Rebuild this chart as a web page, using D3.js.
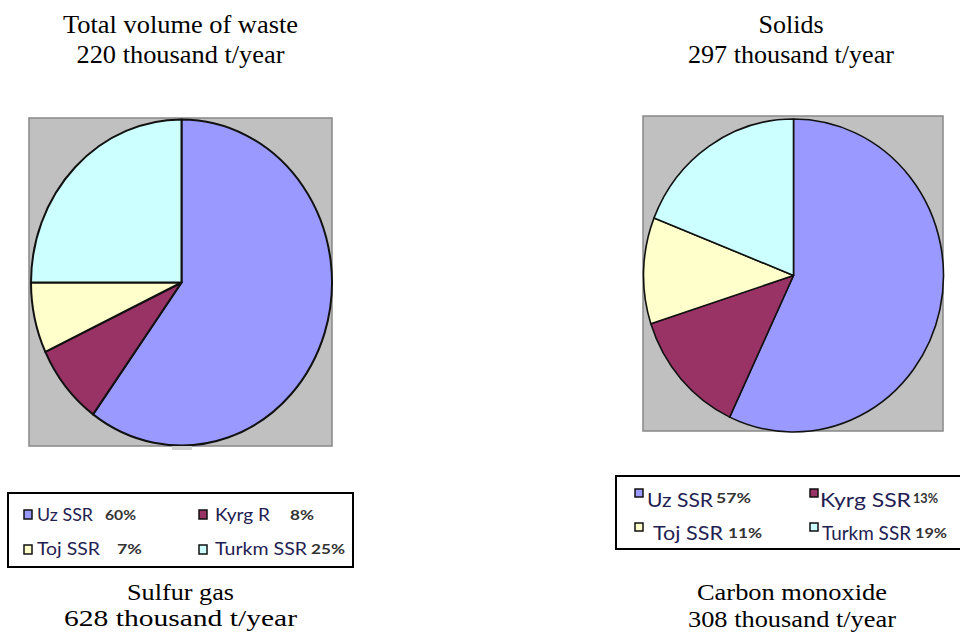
<!DOCTYPE html>
<html>
<head>
<meta charset="utf-8">
<script src="https://cdn.jsdelivr.net/npm/d3@7"></script>
<style>
  html, body { margin: 0; padding: 0; background: #fff; }
  svg { display: block; }
</style>
</head>
<body>
<svg id="chart" width="960" height="634"></svg>
<script>
// ---- data ----
const regions = ["Uz SSR", "Kyrg SSR", "Toj SSR", "Turkm SSR"];
const labelsLeft = ["Uz SSR", "Kyrg R", "Toj SSR", "Turkm SSR"];
const labelsRight = ["Uz SSR", "Kyrg SSR", "Toj SSR", "Turkm SSR"];
const sharesLeft = [60, 8, 7, 25];
const sharesRight = [57, 13, 11, 19];
const colors = ["#9999ff", "#993366", "#ffffcc", "#ccffff"];
const topTitles = [["Total volume of waste", "220 thousand t/year"], ["Solids", "297 thousand t/year"]];
const bottomTitles = [["Sulfur gas", "628 thousand t/year"], ["Carbon monoxide", "308 thousand t/year"]];

const svg = d3.select("#chart");
const color = d3.scaleOrdinal().domain(regions).range(colors);

function drawPie(cfg, shares) {
  const g = svg.append("g");
  g.append("rect")
    .attr("x", cfg.box[0]).attr("y", cfg.box[1])
    .attr("width", cfg.box[2]).attr("height", cfg.box[3])
    .attr("fill", "#c0c0c0").attr("stroke", "#888").attr("stroke-width", 1.5);
  const pie = d3.pie().sort(null).value(d => d.v);
  const arc = d3.arc().innerRadius(0).outerRadius(cfg.rx);
  const data = shares.map((v, i) => ({ v, key: regions[i] }));
  g.append("g")
    .attr("transform", `translate(${cfg.cx},${cfg.cy}) scale(1,${cfg.ry / cfg.rx})`)
    .selectAll("path")
    .data(pie(data))
    .join("path")
    .attr("d", arc)
    .attr("fill", d => color(d.data.key))
    .attr("stroke", "#111")
    .attr("stroke-width", cfg.sw)
    .attr("stroke-linejoin", "round")
    .attr("vector-effect", "non-scaling-stroke");
}

drawPie({ box: [29, 118, 303, 328], cx: 181.5, cy: 282.5, rx: 150.5, ry: 163, sw: 2 }, sharesLeft);
drawPie({ box: [643, 116, 300, 315], cx: 793.5, cy: 275.5, rx: 150, ry: 156.5, sw: 1.6 }, sharesRight);

// small artifact under the left plot
svg.append("rect").attr("x", 172).attr("y", 446).attr("width", 20).attr("height", 4).attr("fill", "#d0d0d0");

// ---- titles ----
function titleBlock(lines, cx, y1, y2, size, widths) {
  const t = svg.append("g")
    .attr("font-family", "'Liberation Serif', 'Times New Roman', serif")
    .attr("font-size", size).attr("fill", "#000").attr("text-anchor", "middle");
  [y1, y2].forEach((y, i) => {
    const el = t.append("text").attr("x", cx).attr("y", y).text(lines[i]);
    if (widths && widths[i]) el.attr("textLength", widths[i]).attr("lengthAdjust", "spacingAndGlyphs");
  });
}
titleBlock(topTitles[0], 180.5, 33, 63, 26, [235, 208]);
titleBlock(topTitles[1], 791, 33, 63, 26, [65, 206]);
titleBlock(bottomTitles[0], 180.5, 600, 626, 22.5, [107, 233]);
titleBlock(bottomTitles[1], 792, 600, 627, 22.5, [190, 208]);

// ---- legends ----
const legFont = "Lato, 'Open Sans', sans-serif";
const textCol = "#1f2152";

// left legend
const legL = svg.append("g");
legL.append("rect").attr("x", 8).attr("y", 493).attr("width", 345).attr("height", 74)
  .attr("fill", "#fff").attr("stroke", "#000").attr("stroke-width", 2);
const posL = [
  { mx: 24, my: 510, tx: 37, ty: 521, px: 105, tw: 56, pw: 31 },
  { mx: 199, my: 510, tx: 215, ty: 521, px: 290, tw: 55, pw: 24 },
  { mx: 24, my: 545, tx: 37, ty: 555, px: 117, tw: 63, pw: 25 },
  { mx: 199, my: 545, tx: 215, ty: 555, px: 311, tw: 92, pw: 34 }
];
labelsLeft.forEach((lab, i) => {
  const p = posL[i];
  legL.append("rect").attr("x", p.mx).attr("y", p.my).attr("width", 8).attr("height", 9)
    .attr("fill", colors[i]).attr("stroke", "#111").attr("stroke-width", 1.5);
  legL.append("text").attr("x", p.tx).attr("y", p.ty).attr("font-family", legFont)
    .attr("font-size", 18).attr("fill", textCol)
    .attr("textLength", p.tw).attr("lengthAdjust", "spacingAndGlyphs").text(lab);
  legL.append("text").attr("x", p.px).attr("y", p.ty - 1).attr("font-family", legFont)
    .attr("font-size", 13).attr("font-weight", 700).attr("fill", "#333")
    .attr("textLength", p.pw).attr("lengthAdjust", "spacingAndGlyphs")
    .text(sharesLeft[i] + "%");
});

// right legend
const legR = svg.append("g");
legR.append("rect").attr("x", 616).attr("y", 476).attr("width", 360).attr("height", 73)
  .attr("fill", "#fff").attr("stroke", "#000").attr("stroke-width", 2);
const posR = [
  { mx: 635, my: 489, tx: 647, ty: 507, px: 716, py: 503, tw: 66, pw: 35 },
  { mx: 810, my: 489, tx: 820, ty: 507, px: 913, py: 503, tw: 91, pw: 25 },
  { mx: 635, my: 523, tx: 653, ty: 540, px: 728, py: 538, tw: 70, pw: 34 },
  { mx: 810, my: 523, tx: 822, ty: 540, px: 915, py: 538, tw: 89, pw: 32 }
];
labelsRight.forEach((lab, i) => {
  const p = posR[i];
  legR.append("rect").attr("x", p.mx).attr("y", p.my).attr("width", 8).attr("height", 8)
    .attr("fill", colors[i]).attr("stroke", "#111").attr("stroke-width", 1.5);
  legR.append("text").attr("x", p.tx).attr("y", p.ty).attr("font-family", legFont)
    .attr("font-size", 20).attr("fill", textCol)
    .attr("textLength", p.tw).attr("lengthAdjust", "spacingAndGlyphs").text(lab);
  legR.append("text").attr("x", p.px).attr("y", p.py).attr("font-family", legFont)
    .attr("font-size", 13).attr("font-weight", 700).attr("fill", "#333")
    .attr("textLength", p.pw).attr("lengthAdjust", "spacingAndGlyphs")
    .text(sharesRight[i] + "%");
});
</script>
</body>
</html>
